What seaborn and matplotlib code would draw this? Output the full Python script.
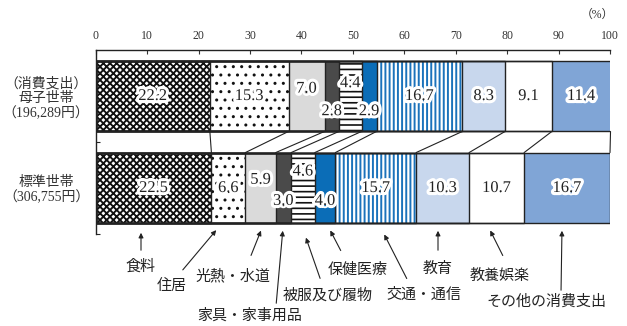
import matplotlib
matplotlib.use("Agg")
import matplotlib.pyplot as plt
import matplotlib.patheffects as pe
import numpy as np
import pandas as pd
import seaborn as sns

# ---- data -------------------------------------------------------------
households = ["母子世帯", "標準世帯"]
household_notes = ["（消費支出）", ""]
spending_totals = ["196,289", "306,755"]
categories = ["食料", "住居", "光熱・水道", "家具・家事用品", "被服及び履物",
              "保健医療", "交通・通信", "教育", "教養娯楽", "その他の消費支出"]
single_mother_share = [22.2, 15.3, 7.0, 2.8, 4.4, 2.9, 16.7, 8.3, 9.1, 11.4]
standard_share = [22.5, 6.6, 5.9, 3.0, 4.6, 4.0, 15.7, 10.3, 10.7, 16.7]
x_ticks = list(range(0, 101, 10))

# ---- styling ------------------------------------------------------------
sns.set_theme(style="white")
plt.rcParams["font.family"] = ["Liberation Serif", "Noto Sans CJK JP"]
plt.rcParams["hatch.linewidth"] = 1.0
JP = ["Noto Sans CJK JP", "DejaVu Sans"]
MIXED = ["Liberation Serif", "Noto Sans CJK JP"]
INK = "#222222"

segment_styles = [
    dict(facecolor="white", edgecolor="#111111", hatch="xxxxx", hlw=1.35),
    dict(facecolor="white", edgecolor="#111111", hatch="..", hlw=1.0),
    dict(facecolor="#dadada", edgecolor="#dadada", hatch=None, hlw=1.0),
    dict(facecolor="#4a4a4a", edgecolor="#4a4a4a", hatch=None, hlw=1.0),
    dict(facecolor="white", edgecolor="#111111", hatch="---", hlw=1.2),
    dict(facecolor="#0b6db7", edgecolor="#0b6db7", hatch=None, hlw=1.0),
    dict(facecolor="white", edgecolor="#1a72bb", hatch="||||", hlw=1.4),
    dict(facecolor="#c8d7ed", edgecolor="#c8d7ed", hatch=None, hlw=1.0),
    dict(facecolor="white", edgecolor="white", hatch=None, hlw=1.0),
    dict(facecolor="#80a5d6", edgecolor="#80a5d6", hatch=None, hlw=1.0),
]
BAR_W = 0.77

df = pd.DataFrame({
    "household": np.repeat(households, len(categories)),
    "category": categories * len(households),
    "share": single_mother_share + standard_share,
})
df["end"] = df.groupby("household", sort=False)["share"].cumsum()
df["start"] = df["end"] - df["share"]

fig = plt.figure(figsize=(6.27, 3.26), dpi=100)
ax = fig.add_axes([0.1526, 0.2822, 0.8203, 0.5644])

# stacked segments: each category is a bar to its cumulative end,
# drawn from the last category to the first so earlier ones sit on top
for cat, st in reversed(list(zip(categories, segment_styles))):
    sub = df[df["category"] == cat]
    sns.barplot(data=sub, x="end", y="household", order=households, orient="h",
                width=BAR_W, errorbar=None, saturation=1,
                color=st["facecolor"], facecolor=st["facecolor"],
                edgecolor=st["edgecolor"], hatch=st["hatch"], linewidth=0, ax=ax)
    for p in ax.patches[-len(households):]:
        if hasattr(p, "set_hatch_linewidth"):
            p.set_hatch_linewidth(st["hlw"])

# black outlines of every segment boundary
for cat in categories:
    sub = df[df["category"] == cat]
    sns.barplot(data=sub, x="end", y="household", order=households, orient="h",
                width=BAR_W, errorbar=None, saturation=1, fill=False,
                color=INK, facecolor="none", edgecolor=INK, linewidth=1.0, ax=ax)

# connector lines between the segment boundaries of the two bars
e1 = df[df["household"] == households[0]]["end"].to_numpy()
e2 = df[df["household"] == households[1]]["end"].to_numpy()
for a, b in zip(e1, e2):
    ax.plot([a, b], [0 + BAR_W / 2, 1 - BAR_W / 2], color=INK, lw=0.8,
            clip_on=False, zorder=3)

# value labels
label_offsets = {(0, 2): -0.08, (0, 3): 0.165, (0, 4): -0.14, (0, 5): 0.165,
                 (1, 2): -0.09, (1, 3): 0.14, (1, 4): -0.18, (1, 5): 0.14}
halo = [pe.withStroke(linewidth=4.5, foreground="white")]
for r, hh in enumerate(households):
    rows = df[df["household"] == hh].reset_index(drop=True)
    for i, row in rows.iterrows():
        y = r + label_offsets.get((r, i), 0.0)
        ax.text(row["start"] + row["share"] / 2, y, f"{row['share']:.1f}",
                ha="center", va="center", fontsize=11.8, color=INK,
                family="Liberation Serif", path_effects=halo, zorder=5)

# axes
ax.set_xlim(0, 100)
ax.set_ylim(1.5, -0.5)
ax.xaxis.tick_top()
ax.set_xticks(x_ticks, labels=[str(t) for t in x_ticks])
ax.tick_params(axis="x", direction="in", length=3, width=0.8, pad=6,
               labelsize=8.5, colors="#333333")
ylabels = [(n + "\n" if n else "") + h + "\n（" + t + "円）"
           for n, h, t in zip(household_notes, households, spending_totals)]
ax.set_yticks([0, 1], labels=ylabels)
ax.set_yticks([0.5, 1.5], minor=True)
ax.tick_params(axis="y", which="major", length=0, pad=4.5, labelsize=10,
               colors="#333333")
ax.tick_params(axis="y", which="minor", direction="in", length=3, width=0.8,
               left=True)
for lbl in ax.get_yticklabels():
    lbl.set_family(MIXED)
    lbl.set_multialignment("center")
    lbl.set_linespacing(1.15)
ax.set_xlabel("")
ax.set_ylabel("")
for side in ("right", "bottom"):
    ax.spines[side].set_visible(False)
for side in ("top", "left"):
    ax.spines[side].set_color(INK)
    ax.spines[side].set_linewidth(1.0)

fig.text(597 / 627, 1 - 15 / 326, "（%）", ha="center", va="center",
         fontsize=8.5, family=MIXED, color="#333333")

# category callouts below the bars (figure pixel positions)
W, H = 627, 326
callouts = {
    "食料": ((140, 267), (141, 253), (141, 230)),
    "住居": ((172, 286), (181, 272), (218, 228)),
    "光熱・水道": ((233, 276), (250, 258), (262, 228)),
    "家具・家事用品": ((250, 316), (276, 306), (283, 228)),
    "被服及び履物": ((328, 296), (321, 281), (305, 235)),
    "保健医療": ((358, 270), (342, 253), (329, 228)),
    "交通・通信": ((424, 295), (408, 281), (383, 232)),
    "教育": ((438, 269), (438, 253), (438, 228)),
    "教養娯楽": ((500, 276), (504, 258), (489, 228)),
    "その他の消費支出": ((546, 302), (561, 293), (562, 228)),
}
for cat in categories:
    (tx, ty), (sx, sy), (ex, ey) = callouts[cat]
    fig.text(tx / W, 1 - ty / H, cat, ha="center", va="center", fontsize=10.8,
             family=JP, color=INK)
    fig.add_artist(matplotlib.patches.FancyArrowPatch(
        (sx / W, 1 - sy / H), (ex / W, 1 - ey / H), transform=fig.transFigure,
        arrowstyle="-|>", mutation_scale=7, lw=0.8, color=INK))

fig.savefig("out.png", dpi=100)
